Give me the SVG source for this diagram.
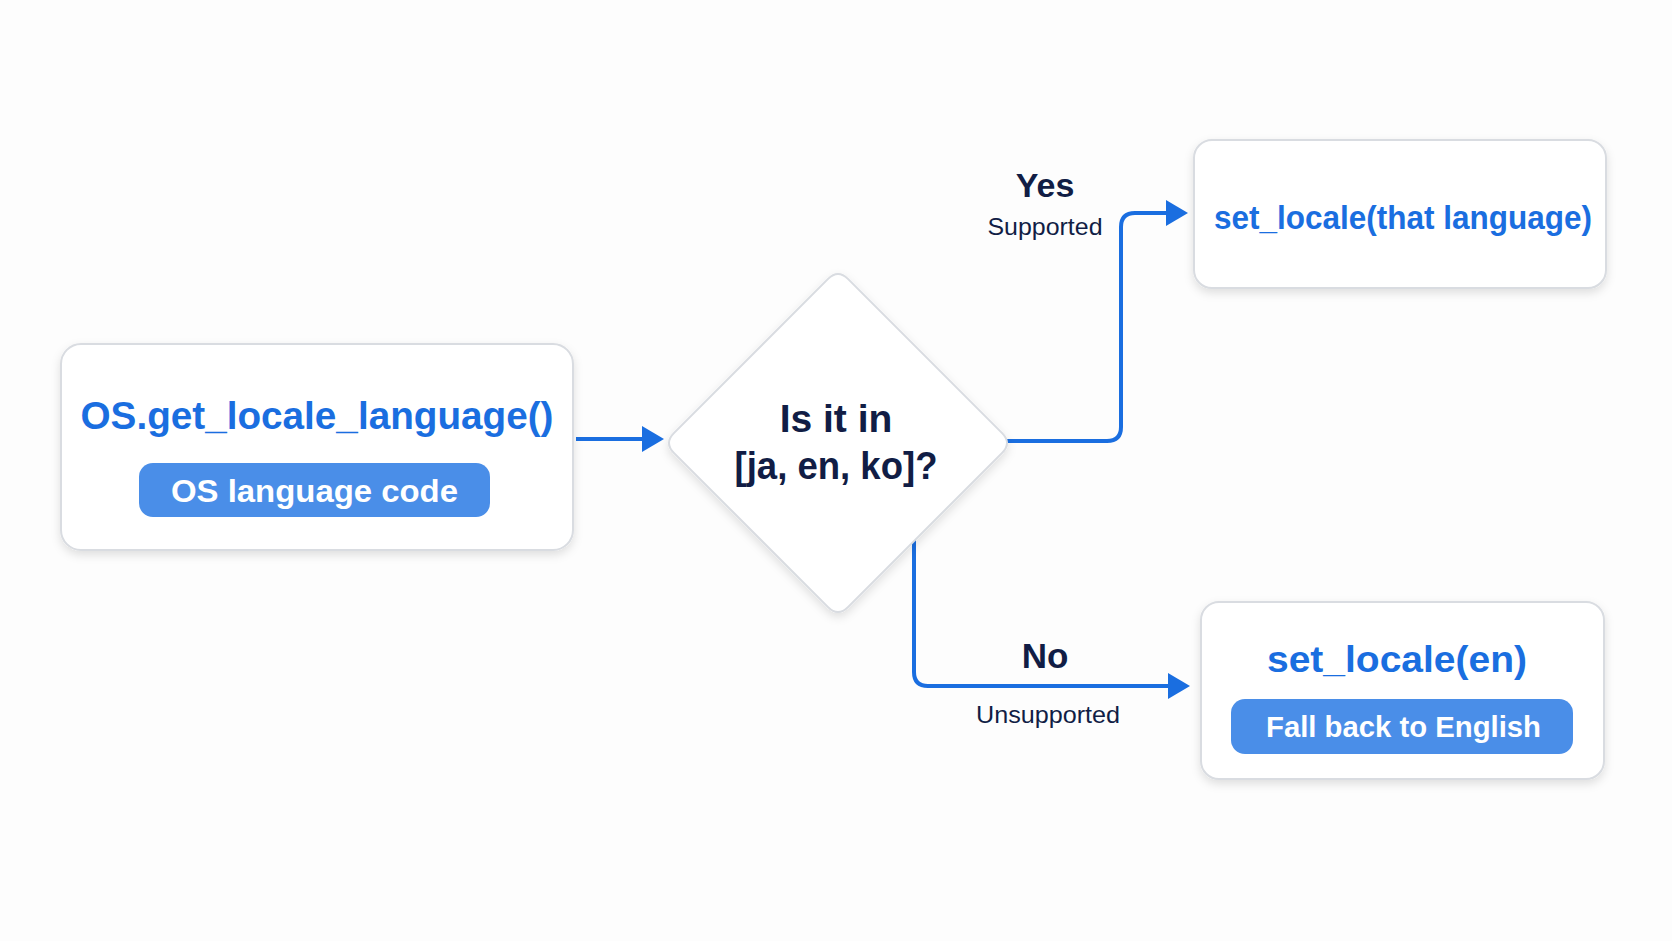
<svg xmlns="http://www.w3.org/2000/svg" width="1672" height="941" viewBox="0 0 1672 941">
  <style>
    .box { fill: #ffffff; stroke: #d9dce1; stroke-width: 2; filter: url(#shadow); }
    .pill { fill: #4a8ee8; }
    .title { font-family: "Liberation Sans", Arial, sans-serif; font-weight: bold; fill: #1a6ee0; text-anchor: middle; }
    .pilltext { font-family: "Liberation Sans", Arial, sans-serif; font-weight: bold; fill: #ffffff; text-anchor: middle; }
    .navy { font-family: "Liberation Sans", Arial, sans-serif; fill: #111d45; text-anchor: middle; }
    .b { font-weight: bold; }
    .conn { fill: none; stroke: #1a6ee0; stroke-width: 4; marker-end: url(#arrow); }
  </style>
  <defs>
    <filter id="shadow" x="-10%" y="-10%" width="120%" height="130%">
      <feDropShadow dx="0" dy="4" stdDeviation="5" flood-color="#000000" flood-opacity="0.12"/>
    </filter>
    <marker id="arrow" viewBox="0 0 22 26" refX="10" refY="13" markerWidth="22" markerHeight="26" markerUnits="userSpaceOnUse" orient="auto">
      <path d="M0,0 L22,13 L0,26 Z" fill="#1a6ee0"/>
    </marker>
  </defs>
  <rect x="0" y="0" width="1672" height="941" fill="#fdfdfd"/>

  <g id="connectors">
    <path class="conn" d="M 576 439 H 652"/>
    <path class="conn" d="M 1000 441 H 1107 Q 1121 441 1121 427 V 227 Q 1121 213 1135 213 H 1176"/>
    <path class="conn" d="M 914 530 V 672 Q 914 686 928 686 H 1178"/>
  </g>

  <g id="node-get-locale">
    <rect class="box" x="61" y="344" width="512" height="206" rx="20"/>
    <text class="title" x="317" y="429" font-size="39" textLength="473" lengthAdjust="spacingAndGlyphs">OS.get_locale_language()</text>
    <rect class="pill" x="139" y="463" width="351" height="54" rx="14"/>
    <text class="pilltext" x="314.5" y="502" font-size="31" textLength="287" lengthAdjust="spacingAndGlyphs">OS language code</text>
  </g>

  <g id="node-decision">
    <path class="box" d="M 828.1 278.9 Q 838 269 847.9 278.9 L 1002.1 433.1 Q 1012 443 1002.1 452.9 L 847.9 607.1 Q 838 617 828.1 607.1 L 673.9 452.9 Q 664 443 673.9 433.1 Z"/>
    <text class="navy b" x="836" y="432" font-size="39">Is it in</text>
    <text class="navy b" x="836" y="479" font-size="39" textLength="203" lengthAdjust="spacingAndGlyphs">[ja, en, ko]?</text>
  </g>

  <g id="label-yes">
    <text class="navy b" x="1045" y="197" font-size="34">Yes</text>
    <text class="navy" x="1045" y="235" font-size="24" textLength="115" lengthAdjust="spacingAndGlyphs">Supported</text>
  </g>

  <g id="label-no">
    <text class="navy b" x="1045" y="668" font-size="35">No</text>
    <text class="navy" x="1048" y="723" font-size="24" textLength="144" lengthAdjust="spacingAndGlyphs">Unsupported</text>
  </g>

  <g id="node-set-that">
    <rect class="box" x="1194" y="140" width="412" height="148" rx="18"/>
    <text class="title" x="1403" y="229" font-size="34" textLength="378" lengthAdjust="spacingAndGlyphs">set_locale(that language)</text>
  </g>

  <g id="node-set-en">
    <rect class="box" x="1201" y="602" width="403" height="177" rx="18"/>
    <text class="title" x="1397" y="672" font-size="37" textLength="260" lengthAdjust="spacingAndGlyphs">set_locale(en)</text>
    <rect class="pill" x="1231" y="699" width="342" height="55" rx="14"/>
    <text class="pilltext" x="1403.5" y="737" font-size="30" textLength="275" lengthAdjust="spacingAndGlyphs">Fall back to English</text>
  </g>
</svg>
